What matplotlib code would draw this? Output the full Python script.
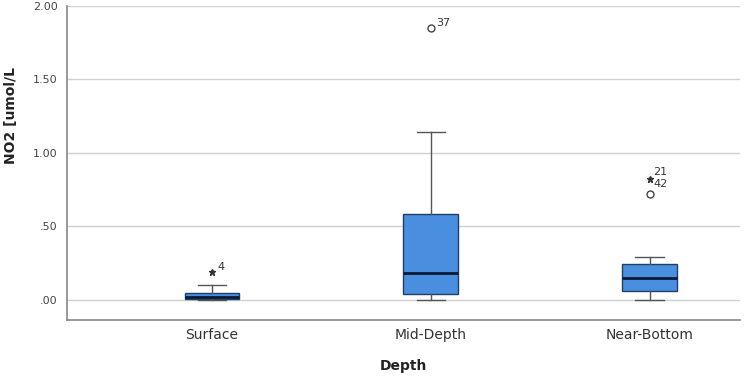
import matplotlib.pyplot as plt
from matplotlib.ticker import FuncFormatter

# Depth groups and box statistics
groups = ["Surface", "Mid-Depth", "Near-Bottom"]
whislo = [0.00, 0.00, 0.00]
q1 = [0.005, 0.04, 0.055]
med = [0.015, 0.18, 0.145]
q3 = [0.045, 0.58, 0.245]
whishi = [0.10, 1.14, 0.29]

# outliers: (group index, value, case label, kind)
out_group = [0, 1, 2, 2]
out_value = [0.19, 1.85, 0.82, 0.72]
out_label = ["4", "37", "21", "42"]
out_kind = ["extreme", "outlier", "extreme", "outlier"]

yticks = [0.0, 0.5, 1.0, 1.5, 2.0]

fig = plt.figure(figsize=(7.54, 3.77), dpi=100)
ax = fig.add_axes([0.089, 0.151, 0.892, 0.833])

stats = []
for i, g in enumerate(groups):
    stats.append(dict(label=g, whislo=whislo[i], q1=q1[i], med=med[i],
                      q3=q3[i], whishi=whishi[i], fliers=[]))

pos = [1, 2, 3]
ax.bxp(stats, positions=pos, widths=0.25, patch_artist=True, showfliers=False,
       boxprops=dict(facecolor="#4a8ee0", edgecolor="#1f3f66", linewidth=1.0),
       medianprops=dict(color="#0a1a33", linewidth=2.0),
       whiskerprops=dict(color="#555555", linewidth=1.0),
       capprops=dict(color="#555555", linewidth=1.0),
       capwidths=0.13, zorder=3)

for g, v, lab, kind in zip(out_group, out_value, out_label, out_kind):
    x = pos[g]
    if kind == "outlier":
        ax.plot(x, v, marker="o", ms=5, mfc="white", mec="#444444", mew=1.0, zorder=4)
    else:
        ax.plot(x, v, marker="*", ms=5, color="#333333", zorder=4)
    if lab == "42":
        ax.text(x + 0.015, 0.79, lab, fontsize=8, color="#333333", va="center")
    elif lab == "21":
        ax.text(x + 0.015, 0.87, lab, fontsize=8, color="#333333", va="center")
    else:
        ax.text(x + 0.025, v + 0.035, lab, fontsize=8, color="#333333", va="center")

ax.set_xlim(0.338, 3.411)
ax.set_ylim(-0.14, 2.0)
ax.set_yticks(yticks)
ax.yaxis.set_major_formatter(FuncFormatter(lambda v, p: ("%.2f" % v).lstrip("0") if v < 1 else "%.2f" % v))
ax.grid(axis="y", color="#d0d0d0", linewidth=1.0, zorder=0)
ax.set_axisbelow(True)

for s in ["top", "right"]:
    ax.spines[s].set_visible(False)
for s in ["left", "bottom"]:
    ax.spines[s].set_color("#888888")
    ax.spines[s].set_linewidth(1.2)

ax.tick_params(axis="y", length=0, labelsize=8, labelcolor="#444444", pad=7)
ax.tick_params(axis="x", length=0, labelsize=10, labelcolor="#333333", pad=6)
ax.set_ylabel("NO2 [umol/L", fontsize=10, fontweight="bold", color="#222222")
ax.yaxis.set_label_coords(-0.073, 0.65)
ax.set_xlabel("Depth", fontsize=10, fontweight="bold", color="#222222", labelpad=12)

fig.savefig("out.png", dpi=100)
